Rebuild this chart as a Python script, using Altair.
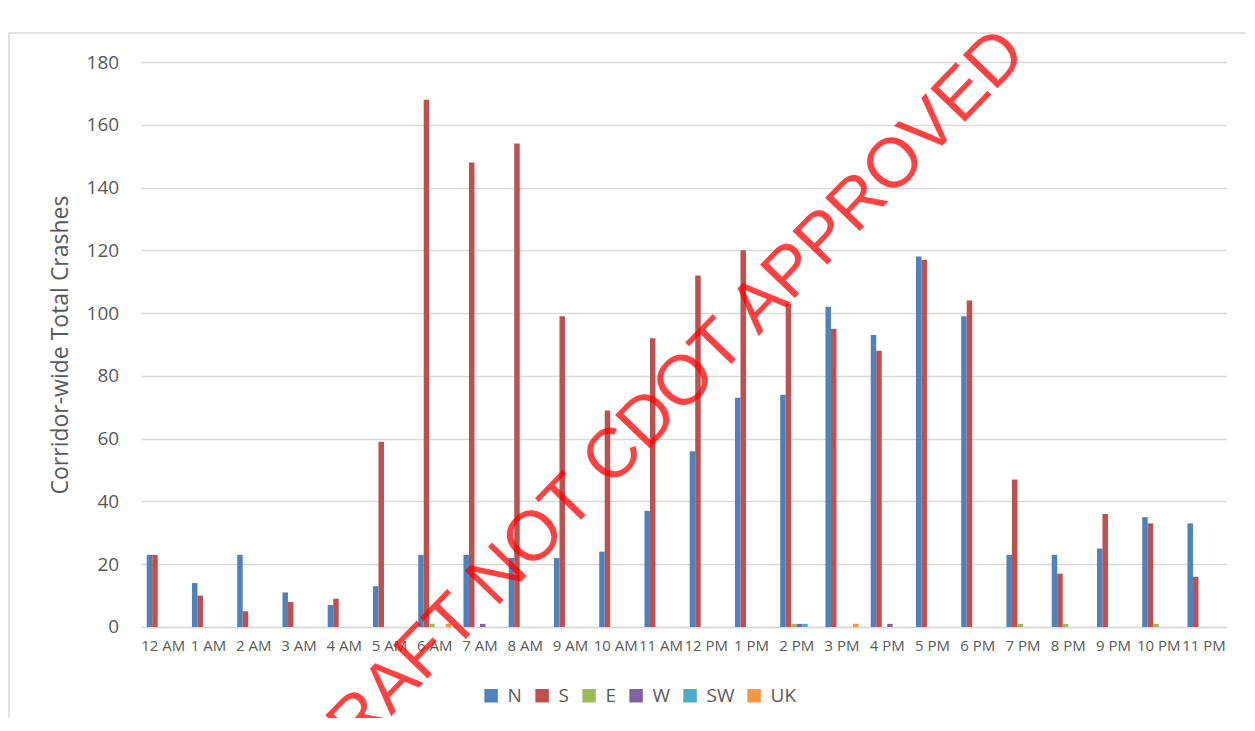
import altair as alt
import pandas as pd

hours = ["12 AM", "1 AM", "2 AM", "3 AM", "4 AM", "5 AM", "6 AM", "7 AM", "8 AM",
         "9 AM", "10 AM", "11 AM", "12 PM", "1 PM", "2 PM", "3 PM", "4 PM", "5 PM",
         "6 PM", "7 PM", "8 PM", "9 PM", "10 PM", "11 PM"]
dirs = ["N", "S", "E", "W", "SW", "UK"]

N = [23, 14, 23, 11, 7, 13, 23, 23, 22, 22, 24, 37, 56, 73, 74, 102, 93, 118, 99, 23, 23, 25, 35, 33]
S = [23, 10, 5, 8, 9, 59, 168, 148, 154, 99, 69, 92, 112, 120, 103, 95, 88, 117, 104, 47, 17, 36, 33, 16]
E = [0, 0, 0, 0, 0, 0, 1, 0, 0, 0, 0, 0, 0, 0, 1, 0, 0, 0, 0, 1, 1, 0, 1, 0]
W = [0, 0, 0, 0, 0, 0, 0, 1, 0, 0, 0, 0, 0, 0, 1, 0, 1, 0, 0, 0, 0, 0, 0, 0]
SW = [0, 0, 0, 0, 0, 0, 0, 0, 0, 0, 0, 0, 0, 0, 1, 0, 0, 0, 0, 0, 0, 0, 0, 0]
UK = [0, 0, 0, 0, 0, 0, 1, 0, 0, 0, 0, 0, 0, 0, 0, 1, 0, 0, 0, 0, 0, 0, 0, 0]
colors = ["#4F81BD", "#C0504D", "#9BBB59", "#8064A2", "#4BACC6", "#F79646"]

y_ticks = [0, 20, 40, 60, 80, 100, 120, 140, 160, 180]
y_title = "Corridor-wide Total Crashes"
watermark = "DRAFT NOT CDOT APPROVED"

rows = []
for d, vals in zip(dirs, [N, S, E, W, SW, UK]):
    for h, v in zip(hours, vals):
        rows.append({"hour": h, "dir": d, "crashes": v})
df = pd.DataFrame(rows)

TXT = "#595959"
GRID = "#D9D9D9"

bars = alt.Chart(df).mark_bar().encode(
    x=alt.X("hour:N", sort=hours,
            scale=alt.Scale(paddingInner=0.27, paddingOuter=0.135),
            axis=alt.Axis(title=None, labelAngle=0, ticks=False, domain=True,
                          domainColor=GRID, domainWidth=1.5, labelFontSize=15,
                          labelColor=TXT, labelPadding=12, labelOverlap=False,
                          grid=False)),
    xOffset=alt.XOffset("dir:N", sort=dirs,
                        scale=alt.Scale(paddingInner=0, paddingOuter=0)),
    y=alt.Y("crashes:Q", scale=alt.Scale(domain=[0, 180], nice=False),
            axis=alt.Axis(values=y_ticks, title=y_title, domain=False, ticks=False,
                          grid=True, gridColor=GRID, gridWidth=1.5,
                          labelFontSize=19, labelColor=TXT, labelPadding=22,
                          titleFontSize=23, titleFontWeight="normal",
                          titleColor=TXT, titlePadding=14)),
    color=alt.Color("dir:N", sort=dirs,
                    scale=alt.Scale(domain=dirs, range=colors),
                    legend=alt.Legend(title=None, orient="none", legendX=341,
                                      legendY=624, direction="horizontal",
                                      symbolType="square", symbolSize=182,
                                      symbolStrokeWidth=0, labelFontSize=19,
                                      labelColor=TXT, columnPadding=10,
                                      labelOffset=7, padding=0)),
)

border = alt.Chart(pd.DataFrame({"a": [0]})).mark_rect(
    fillOpacity=0, stroke=GRID, strokeWidth=1.5
).encode(
    x=alt.value(-131.6), x2=alt.value(1200), y=alt.value(-29), y2=alt.value(720)
)

mark = alt.Chart(pd.DataFrame({"t": [watermark]})).mark_text(
    angle=314, fontSize=70, color="#FF0000", opacity=0.74,
    font="Liberation Sans Narrow, Arial Narrow, Liberation Sans",
    align="center", baseline="middle"
).encode(text="t:N", x=alt.value(519), y=alt.value(346))

chart = alt.layer(border, bars, mark).properties(
    width=1086, height=565,
    padding={"left": 132.6, "top": 54, "right": 18, "bottom": 91},
    autosize=alt.AutoSizeParams(type="none"),
).configure(font="Open Sans").configure_view(stroke=None)

chart.save("out.html", embed_options={"renderer": "svg", "actions": False})
